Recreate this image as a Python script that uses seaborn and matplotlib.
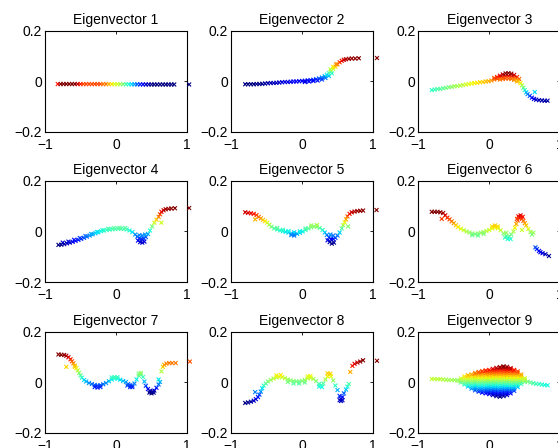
import matplotlib
matplotlib.use("Agg")
import matplotlib.pyplot as plt
import numpy as np
import pandas as pd
import seaborn as sns

# ---------------- data ----------------
TITLES = ["Eigenvector 1", "Eigenvector 2", "Eigenvector 3",
          "Eigenvector 4", "Eigenvector 5", "Eigenvector 6",
          "Eigenvector 7", "Eigenvector 8", "Eigenvector 9"]
X_TICKS = [-1, 0, 1]
X_TICK_LABELS = ["\u22121", "0", "1"]
Y_TICKS = [-0.2, 0, 0.2]
Y_TICK_LABELS = ["\u22120.2", "0", "0.2"]

# (x, eigenvector value) pairs
EV1 = [(-0.82, -0.0102), (-0.78, -0.0100), (-0.74, -0.0100), (-0.70, -0.0100), (-0.66, -0.0100),
       (-0.62, -0.0100), (-0.58, -0.0100), (-0.54, -0.0101), (-0.50, -0.0102), (-0.46, -0.0103),
       (-0.42, -0.0103), (-0.38, -0.0103), (-0.34, -0.0103), (-0.30, -0.0103), (-0.26, -0.0103),
       (-0.22, -0.0103), (-0.18, -0.0104), (-0.14, -0.0104), (-0.10, -0.0105), (-0.06, -0.0106),
       (-0.02, -0.0107), (0.02, -0.0107), (0.06, -0.0108), (0.10, -0.0109), (0.14, -0.0110),
       (0.18, -0.0111), (0.22, -0.0112), (0.26, -0.0113), (0.30, -0.0114), (0.34, -0.0115),
       (0.38, -0.0116), (0.42, -0.0117), (0.46, -0.0117), (0.50, -0.0118), (0.54, -0.0118),
       (0.58, -0.0118), (0.62, -0.0118), (0.66, -0.0118), (0.70, -0.0118), (0.74, -0.0118),
       (0.78, -0.0118), (0.82, -0.0118), (1.03, -0.0118)]

EV2 = [(-0.80, -0.011), (-0.76, -0.011), (-0.72, -0.011), (-0.68, -0.011), (-0.64, -0.010),
       (-0.60, -0.010), (-0.56, -0.009), (-0.52, -0.008), (-0.48, -0.007), (-0.44, -0.006),
       (-0.40, -0.006), (-0.36, -0.005), (-0.32, -0.004), (-0.28, -0.003), (-0.24, -0.002),
       (-0.20, -0.002), (-0.16, -0.001), (-0.12, 0.000), (-0.08, 0.000), (-0.04, 0.001),
       (0.00, 0.002), (0.04, 0.003), (0.08, 0.004), (0.12, 0.005), (0.16, 0.007),
       (0.20, 0.009), (0.24, 0.012), (0.28, 0.016), (0.32, 0.021), (0.35, 0.027),
       (0.38, 0.033), (0.41, 0.042), (0.44, 0.050), (0.47, 0.059), (0.50, 0.068),
       (0.53, 0.076), (0.56, 0.082), (0.59, 0.086), (0.62, 0.088), (0.66, 0.090),
       (0.70, 0.091), (0.75, 0.091), (0.80, 0.092), (1.056, 0.093),
       (0.04, -0.002), (0.10, 0.000), (0.16, 0.002), (0.22, 0.004), (0.28, 0.008),
       (0.33, 0.014), (0.38, 0.022), (0.42, 0.032), (0.40, 0.048), (0.44, 0.058),
       (0.48, 0.068)]

EV3 = [(-0.81, -0.034), (-0.77, -0.032), (-0.73, -0.030), (-0.69, -0.029), (-0.65, -0.027),
       (-0.61, -0.025), (-0.57, -0.023), (-0.53, -0.021), (-0.49, -0.019), (-0.45, -0.018),
       (-0.41, -0.016), (-0.37, -0.014), (-0.33, -0.012), (-0.29, -0.010), (-0.25, -0.008),
       (-0.21, -0.006), (-0.17, -0.005), (-0.13, -0.003), (-0.09, -0.002), (-0.05, 0.000),
       (-0.01, 0.001), (0.03, 0.004), (0.07, 0.008), (0.11, 0.011), (0.15, 0.015),
       (0.19, 0.018), (0.23, 0.021), (0.27, 0.022), (0.31, 0.020), (0.35, 0.016),
       (0.38, 0.010), (0.41, 0.003), (0.44, -0.006), (0.46, -0.015), (0.48, -0.025),
       (0.50, -0.034), (0.52, -0.043), (0.54, -0.050), (0.57, -0.057), (0.60, -0.064),
       (0.63, -0.069), (0.66, -0.072), (0.70, -0.074), (0.74, -0.075), (0.78, -0.076),
       (0.82, -0.076), (0.64, -0.042), (1.05, -0.080),
       (0.07, 0.014), (0.11, 0.018), (0.15, 0.023), (0.19, 0.028), (0.23, 0.032),
       (0.27, 0.033), (0.31, 0.031), (0.35, 0.026), (0.39, 0.018), (0.42, 0.010),
       (0.15, 0.008), (0.19, 0.010), (0.23, 0.012), (0.27, 0.012), (0.31, 0.010),
       (0.35, 0.006), (0.39, 0.000)]

EV4 = [(-0.81, -0.053), (-0.77, -0.052), (-0.73, -0.050), (-0.69, -0.047), (-0.65, -0.044),
       (-0.61, -0.041), (-0.57, -0.037), (-0.53, -0.033), (-0.49, -0.029), (-0.45, -0.025),
       (-0.41, -0.020), (-0.37, -0.016), (-0.33, -0.011), (-0.29, -0.007), (-0.25, -0.003),
       (-0.21, 0.001), (-0.17, 0.004), (-0.13, 0.006), (-0.09, 0.008), (-0.05, 0.009),
       (-0.01, 0.010), (0.03, 0.011), (0.07, 0.011), (0.11, 0.010), (0.15, 0.008),
       (0.19, 0.004), (0.23, -0.002), (0.27, -0.012), (0.30, -0.020), (0.33, -0.026),
       (0.36, -0.029), (0.39, -0.028), (0.42, -0.022), (0.45, -0.010), (0.48, 0.004),
       (0.51, 0.020), (0.54, 0.035), (0.57, 0.047), (0.60, 0.058), (0.62, 0.068),
       (0.64, 0.078), (0.67, 0.084), (0.70, 0.088), (0.74, 0.090), (0.78, 0.091),
       (0.83, 0.092), (0.64, 0.035), (1.03, 0.093),
       (0.31, -0.036), (0.34, -0.042), (0.37, -0.044), (0.40, -0.040), (0.33, -0.015),
       (0.37, -0.016), (0.41, -0.012),
       (-0.75, -0.044), (-0.67, -0.040), (-0.59, -0.033), (-0.51, -0.026), (-0.43, -0.018),
       (-0.35, -0.010), (-0.27, -0.002), (-0.19, 0.005), (-0.11, 0.011), (-0.03, 0.014),
       (0.05, 0.015), (0.13, 0.014)]

EV5 = [(-0.80, 0.076), (-0.76, 0.074), (-0.72, 0.072), (-0.68, 0.070), (-0.64, 0.065),
       (-0.61, 0.058), (-0.58, 0.052), (-0.55, 0.046), (-0.52, 0.041), (-0.49, 0.035),
       (-0.46, 0.027), (-0.43, 0.019), (-0.39, 0.012), (-0.35, 0.008), (-0.31, 0.004),
       (-0.27, 0.001), (-0.23, -0.001), (-0.19, -0.004), (-0.15, -0.008), (-0.11, -0.010),
       (-0.07, -0.009), (-0.03, -0.005), (0.01, 0.000), (0.05, 0.006), (0.09, 0.012),
       (0.13, 0.017), (0.17, 0.020), (0.21, 0.019), (0.25, 0.014), (0.29, 0.006),
       (0.32, -0.004), (0.35, -0.014), (0.38, -0.023), (0.41, -0.030), (0.44, -0.030),
       (0.47, -0.025), (0.50, -0.016), (0.53, -0.004), (0.56, 0.012), (0.58, 0.025),
       (0.60, 0.036), (0.62, 0.048), (0.64, 0.060), (0.67, 0.070), (0.70, 0.076),
       (0.74, 0.079), (0.78, 0.081), (0.82, 0.082), (0.86, 0.083), (-0.66, 0.048),
       (0.65, 0.020), (1.05, 0.085),
       (0.36, -0.035), (0.39, -0.042), (0.42, -0.048), (0.45, -0.044), (0.40, -0.012),
       (0.44, -0.016),
       (-0.35, 0.014), (-0.27, 0.007), (-0.19, 0.002), (-0.11, -0.003), (-0.03, 0.001),
       (0.05, 0.012), (0.13, 0.024), (0.21, 0.026), (-0.15, -0.014), (-0.11, -0.016)]

EV6 = [(-0.81, 0.078), (-0.77, 0.078), (-0.73, 0.078), (-0.69, 0.076), (-0.65, 0.073),
       (-0.62, 0.064), (-0.59, 0.055), (-0.56, 0.048), (-0.53, 0.040), (-0.50, 0.033),
       (-0.47, 0.025), (-0.44, 0.018), (-0.40, 0.011), (-0.36, 0.005), (-0.32, 0.000),
       (-0.28, -0.004), (-0.24, -0.008), (-0.20, -0.010), (-0.16, -0.008), (-0.12, -0.005),
       (-0.08, -0.002), (-0.04, 0.002), (0.00, 0.006), (0.04, 0.012), (0.08, 0.016),
       (0.12, 0.013), (0.16, 0.005), (0.20, -0.008), (0.24, -0.017), (0.28, -0.020),
       (0.31, -0.012), (0.34, 0.000), (0.36, 0.015), (0.38, 0.030), (0.40, 0.044),
       (0.42, 0.054), (0.44, 0.057), (0.46, 0.050), (0.48, 0.042), (0.50, 0.033),
       (0.52, 0.024), (0.55, 0.010), (0.58, -0.002), (0.60, -0.012), (0.62, -0.005),
       (0.65, -0.063), (0.67, -0.070), (0.70, -0.077), (0.72, -0.082), (0.75, -0.086),
       (0.79, -0.090), (0.84, -0.097), (-0.67, 0.050), (0.46, 0.006), (1.05, -0.100),
       (0.22, -0.024), (0.26, -0.030), (0.30, -0.030), (0.24, -0.005),
       (0.04, 0.020), (0.08, 0.024), (0.12, 0.020),
       (-0.24, -0.015), (-0.16, -0.016), (-0.08, -0.010),
       (0.41, 0.060), (0.44, 0.064), (0.47, 0.058), (0.39, 0.050)]

EV7 = [(-0.81, 0.109), (-0.77, 0.108), (-0.73, 0.107), (-0.70, 0.104), (-0.67, 0.098),
       (-0.64, 0.090), (-0.62, 0.082), (-0.60, 0.074), (-0.58, 0.065), (-0.56, 0.055),
       (-0.54, 0.046), (-0.52, 0.036), (-0.50, 0.026), (-0.48, 0.017), (-0.45, 0.008),
       (-0.42, 0.002), (-0.38, -0.004), (-0.34, -0.008), (-0.30, -0.012), (-0.26, -0.014),
       (-0.22, -0.013), (-0.18, -0.009), (-0.14, -0.004), (-0.10, 0.003), (-0.06, 0.010),
       (-0.02, 0.014), (0.02, 0.013), (0.06, 0.009), (0.10, 0.004), (0.14, 0.000),
       (0.17, -0.008), (0.20, -0.013), (0.23, -0.014), (0.26, -0.006), (0.29, 0.010),
       (0.32, 0.025), (0.35, 0.030), (0.38, 0.020), (0.40, 0.002), (0.42, -0.015),
       (0.45, -0.028), (0.48, -0.035), (0.51, -0.038), (0.54, -0.034), (0.57, -0.023),
       (0.60, -0.010), (0.62, 0.000), (0.64, 0.042), (0.66, 0.060), (0.68, 0.068),
       (0.71, 0.073), (0.75, 0.075), (0.79, 0.075), (0.84, 0.075), (-0.70, 0.060),
       (-0.58, 0.060), (0.60, 0.010), (1.04, 0.081),
       (-0.30, -0.020), (-0.26, -0.022), (-0.22, -0.020), (0.16, -0.014), (0.20, -0.020),
       (0.23, -0.020), (-0.06, 0.018), (-0.02, 0.020), (0.02, 0.019), (0.32, 0.033),
       (0.35, 0.036), (0.47, -0.042), (0.50, -0.045), (0.53, -0.042)]

EV8 = [(-0.80, -0.083), (-0.76, -0.081), (-0.72, -0.078), (-0.68, -0.074), (-0.65, -0.068),
       (-0.62, -0.060), (-0.60, -0.050), (-0.58, -0.038), (-0.56, -0.025), (-0.54, -0.014),
       (-0.51, -0.006), (-0.48, 0.002), (-0.44, 0.008), (-0.40, 0.014), (-0.36, 0.018),
       (-0.32, 0.020), (-0.28, 0.019), (-0.24, 0.015), (-0.20, 0.010), (-0.16, 0.006),
       (-0.12, 0.003), (-0.08, 0.002), (-0.04, 0.002), (0.00, 0.004), (0.04, 0.008),
       (0.08, 0.014), (0.12, 0.016), (0.16, 0.012), (0.20, 0.004), (0.24, -0.008),
       (0.27, -0.012), (0.30, -0.006), (0.33, 0.010), (0.36, 0.022), (0.38, 0.028),
       (0.41, 0.022), (0.44, 0.006), (0.47, -0.014), (0.50, -0.032), (0.53, -0.055),
       (0.55, -0.068), (0.57, -0.060), (0.59, -0.045), (0.62, -0.030), (0.64, -0.018),
       (0.66, -0.008), (0.68, 0.040), (0.71, 0.064), (0.74, 0.072), (0.78, 0.077),
       (0.82, 0.081), (0.86, 0.086), (-0.66, -0.040), (1.056, 0.084),
       (-0.20, 0.000), (-0.12, -0.006), (-0.04, -0.006), (0.04, -0.002),
       (-0.36, 0.026), (-0.30, 0.028), (0.08, 0.022), (0.12, 0.024),
       (0.24, -0.018), (0.28, -0.020), (0.53, -0.072), (0.55, -0.075), (0.57, -0.072),
       (0.36, 0.034), (0.40, 0.033)]

EV9_TAILS = [(-0.81, 0.012), (-0.77, 0.012), (-0.73, 0.011), (-0.69, 0.011), (-0.65, 0.010),
             (-0.61, 0.009), (-0.57, 0.008), (-0.53, 0.008), (-0.49, 0.007), (-0.45, 0.006),
             (-0.42, 0.005), (0.54, 0.002), (0.58, -0.002), (0.62, -0.005), (0.66, -0.007),
             (0.70, -0.008), (0.74, -0.010), (0.78, -0.012), (0.82, -0.013), (1.05, -0.015)]

# central cloud of eigenvector 9: x -> values seen at that x
EV9_CLOUD = {
    -0.40: [-0.002, 0.006, 0.014],
    -0.35: [-0.010, -0.002, 0.006, 0.014, 0.022],
    -0.30: [-0.018, -0.010, -0.002, 0.006, 0.014, 0.022, 0.027],
    -0.25: [-0.026, -0.018, -0.010, -0.002, 0.006, 0.014, 0.022, 0.030],
    -0.20: [-0.033, -0.025, -0.017, -0.009, -0.001, 0.007, 0.015, 0.023, 0.031, 0.036],
    -0.15: [-0.038, -0.030, -0.022, -0.014, -0.006, 0.002, 0.010, 0.018, 0.026, 0.034, 0.040],
    -0.10: [-0.042, -0.034, -0.026, -0.018, -0.010, -0.002, 0.006, 0.014, 0.022, 0.030, 0.038, 0.043],
    -0.05: [-0.045, -0.037, -0.029, -0.021, -0.013, -0.005, 0.003, 0.011, 0.019, 0.027, 0.035, 0.043, 0.046],
    0.00: [-0.048, -0.040, -0.032, -0.024, -0.016, -0.008, 0.000, 0.008, 0.016, 0.024, 0.032, 0.040, 0.048],
    0.05: [-0.052, -0.044, -0.036, -0.028, -0.020, -0.012, -0.004, 0.004, 0.012, 0.020, 0.028, 0.036, 0.044, 0.052],
    0.10: [-0.056, -0.048, -0.040, -0.032, -0.024, -0.016, -0.008, 0.000, 0.008, 0.016, 0.024, 0.032, 0.040, 0.048, 0.056],
    0.15: [-0.058, -0.050, -0.042, -0.034, -0.026, -0.018, -0.010, -0.002, 0.006, 0.014, 0.022, 0.030, 0.038, 0.046, 0.054, 0.059],
    0.20: [-0.056, -0.048, -0.040, -0.032, -0.024, -0.016, -0.008, 0.000, 0.008, 0.016, 0.024, 0.032, 0.040, 0.048, 0.056, 0.062],
    0.25: [-0.052, -0.044, -0.036, -0.028, -0.020, -0.012, -0.004, 0.004, 0.012, 0.020, 0.028, 0.036, 0.044, 0.052, 0.060],
    0.30: [-0.045, -0.037, -0.029, -0.021, -0.013, -0.005, 0.003, 0.011, 0.019, 0.027, 0.035, 0.043, 0.051, 0.055],
    0.35: [-0.035, -0.027, -0.019, -0.011, -0.003, 0.005, 0.013, 0.021, 0.029, 0.037, 0.045, 0.048],
    0.40: [-0.020, -0.012, -0.004, 0.004, 0.012, 0.020, 0.028, 0.036, 0.042],
    0.45: [-0.008, 0.000, 0.008, 0.016, 0.024, 0.030],
    0.50: [0.000, 0.008, 0.015],
}

EV9 = EV9_TAILS + [(x, v) for x, vals in EV9_CLOUD.items() for v in vals]
PANELS = [EV1, EV2, EV3, EV4, EV5, EV6, EV7, EV8, EV9]

# ---------------- drawing ----------------
sns.set_style("white")
plt.rcParams["font.family"] = ["Liberation Sans", "DejaVu Sans"]
plt.rcParams["axes.unicode_minus"] = True
JET = matplotlib.colormaps["jet"]

W, H = 558, 448
fig = plt.figure(figsize=(W / 100, H / 100), dpi=100)

col_left = [45, 231, 418.3]
row_top = [31, 181, 331.5]
ax_w, ax_h = 142, 101

for i, (pairs, title) in enumerate(zip(PANELS, TITLES)):
    r, c = divmod(i, 3)
    ax = fig.add_axes([col_left[c] / W, (H - row_top[r] - ax_h) / H, ax_w / W, ax_h / H])
    df = pd.DataFrame(pairs, columns=["x", "v"])
    sns.scatterplot(data=df, x="x", y="v", hue="v", palette=JET,
                    hue_norm=(df["v"].min(), df["v"].max()),
                    marker="x", s=8, linewidth=0.8, legend=False,
                    ax=ax, clip_on=False, zorder=3)
    ax.set_xlim(-1, 1)
    ax.set_ylim(-0.2, 0.2)
    ax.set_xticks(X_TICKS)
    ax.set_xticklabels(X_TICK_LABELS)
    ax.set_yticks(Y_TICKS)
    ax.set_yticklabels(Y_TICK_LABELS)
    ax.set_xlabel("")
    ax.set_ylabel("")
    ax.set_title(title, fontsize=10, pad=5, color="black")
    for sp in ax.spines.values():
        sp.set_visible(True)
        sp.set_color("black")
        sp.set_linewidth(0.8)
    ax.tick_params(direction="in", length=2.2, width=0.6, top=True, right=True,
                   labelsize=10, colors="black")
    ax.tick_params(axis="x", pad=4.5)
    ax.tick_params(axis="y", pad=2)
    ax.set_facecolor("white")

fig.savefig("out.png", dpi=100, facecolor="white")
